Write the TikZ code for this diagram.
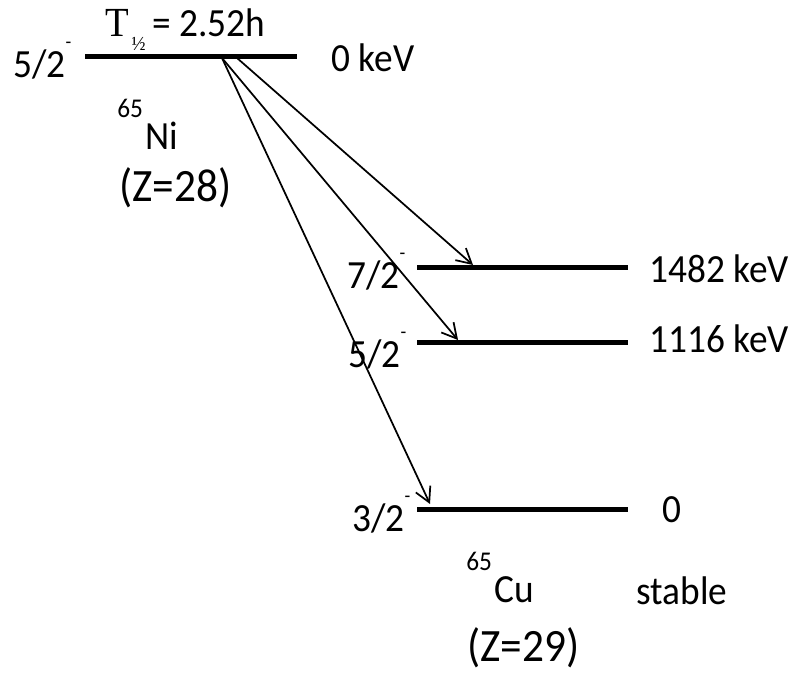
\documentclass[tikz,border=0pt]{standalone}
\usepackage{fontspec}
\usepackage{graphicx}
\setmainfont{Carlito}
\newfontfamily\halflife{Liberation Serif}
\usetikzlibrary{arrows.meta, positioning}

\newcommand{\tall}[1]{\scalebox{1}[1.07]{#1}}
\newcommand{\jpi}[1]{\tall{#1\raisebox{20.6pt}{\fontsize{14pt}{14pt}\selectfont -}}}
\newcommand{\isotope}[2]{\tall{\raisebox{23.1pt}{\fontsize{19pt}{19pt}\selectfont #1}\hspace{2pt}#2}}

\begin{document}
\begin{tikzpicture}[
    x=0.75pt, y=-0.75pt,
    level/.style = {line width=3.75pt},
    decay/.style = {-{Straight Barb[length=11pt, width=12pt]}, line width=1.3pt},
    txt/.style = {anchor=base west, inner sep=0pt, font=\fontsize{28pt}{30pt}\selectfont},
    big/.style = {txt, font=\fontsize{32.5pt}{34pt}\selectfont}
  ]
  \useasboundingbox (0,0) rectangle (793,680);

  % parent level
  \coordinate (niL) at (85,56.5);
  \coordinate (niR) at (297,56.5);
  \coordinate (src1) at (222,58);
  \coordinate (src2) at (237,58);
  \draw [level] (niL) -- (niR);

  % daughter levels
  \coordinate (cuAL) at (417,268);
  \coordinate (cuAR) at (628,268);
  \coordinate (cuBL) at (417,343);
  \coordinate (cuBR) at (628,343);
  \coordinate (cuCL) at (417,510);
  \coordinate (cuCR) at (628,510);
  \draw [level] (cuAL) -- (cuAR);
  \draw [level] (cuBL) -- (cuBR);
  \draw [level] (cuCL) -- (cuCR);

  % beta branches
  \coordinate (tipA) at (473,265);
  \coordinate (tipB) at (458,340);
  \coordinate (tipC) at (430,504);
  \draw [decay] (src2) -- (tipA);
  \draw [decay] (src1) -- (tipB);
  \draw [decay] (src1) -- (tipC);

  % labels
  \node [txt] (ni-spin) at (13,78) {\jpi{5/2}};
  \node [txt] (ni-half) at (105,37) {\tall{{\halflife\fontsize{29pt}{30pt}\selectfont T\hspace{2pt}\raisebox{-9.5pt}{\fontsize{14pt}{14pt}\selectfont ½}}\hspace{5pt}= 2.52h}};
  \node [txt] (ni-e) at (331,72) {\tall{0 keV}};
  \node [txt] (ni-name) at (117,150) {\isotope{65}{Ni}};
  \node [big] (ni-z) at (119,202) {\tall{(Z=28)}};

  \node [txt] (cuA-spin) at (347,289) {\jpi{7/2}};
  \node [txt] (cuB-spin) at (348,368) {\jpi{5/2}};
  \node [txt] (cuC-spin) at (352,532) {\jpi{3/2}};
  \node [txt] (cuA-e) at (649,283) {\tall{1482 keV}};
  \node [txt] (cuB-e) at (649,353) {\tall{1116 keV}};
  \node [txt] (cuC-e) at (662,523) {\tall{0}};
  \node [txt] (cu-name) at (466,603) {\isotope{65}{Cu}};
  \node [txt] (cu-stable) at (636,605) {\tall{stable}};
  \node [big] (cu-z) at (467,662) {\tall{(Z=29)}};
\end{tikzpicture}
\end{document}
